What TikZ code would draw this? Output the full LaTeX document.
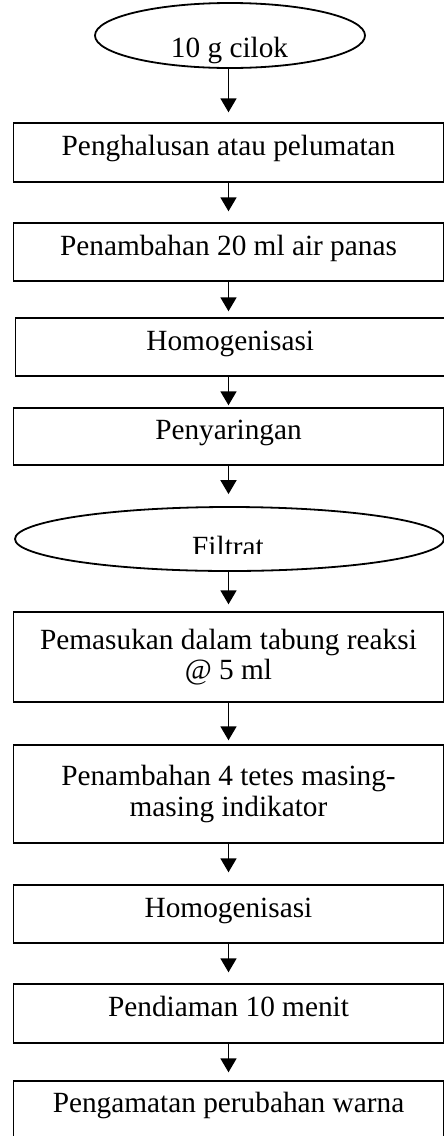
\documentclass[tikz,border=0pt]{standalone}
\usepackage{fontspec}
\setmainfont{Liberation Serif}
\usepackage{tikz}
\usetikzlibrary{shapes.geometric,arrows.meta}

\begin{document}
\begin{tikzpicture}[x=1pt,y=-1pt]
    \tikzstyle{proc}=[
      draw=black,
      line width=1.4pt,
      rectangle,
      inner sep=0pt,
      minimum width=430pt,
      align=center,
      font=\fontsize{29.3}{30.5}\selectfont,
    ]
    \tikzstyle{term}=[
      draw=black,
      line width=1.8pt,
      ellipse,
      inner sep=0pt,
    ]
    \tikzstyle{txt}=[anchor=base,inner sep=0pt,font=\fontsize{29.3}{30.5}\selectfont]
    \tikzstyle{flow}=[line width=1.8pt,-{Triangle[length=14pt,width=16pt]},draw=black]

    \clip (0,0) rectangle (444,1136);

    \node[term,minimum width=270pt,minimum height=65pt] (cilok) at (230,35.5) {};
    \node[txt] (ciloktxt) at (229.5,57) {10 g cilok};
    \node[proc,minimum height=59pt,text height=0.66em,text depth=0pt] (halus) at (228.5,152.5) {Penghalusan atau pelumatan};
    \node[proc,minimum height=58pt,text height=0.66em,text depth=0pt] (tambah) at (228.5,252) {Penambahan 20 ml air panas};
    \node[proc,minimum height=58pt,minimum width=429.5pt,text height=0.66em,text depth=0pt] (homoa) at (230.25,347) {Homogenisasi};
    \node[proc,minimum height=57pt,text height=0.66em,text depth=0pt] (saring) at (228.5,436.5) {Penyaringan};
    \node[term,minimum width=429pt,minimum height=64pt] (filtrat) at (229.5,539) {};
    \begin{scope}
      \clip (0,0) rectangle (444,553);
      \node[txt] (filtrattxt) at (228,556.4) {Filtrat};
    \end{scope}
    \node[proc,minimum height=90pt] (masuk) at (228.5,657) {Pemasukan dalam tabung reaksi\\@ 5 ml};
    \node[proc,minimum height=98pt] (indikator) at (228.5,794) {Penambahan 4 tetes masing-\\masing indikator};
    \node[proc,minimum height=58pt,text height=0.66em,text depth=0pt] (homob) at (228.5,914) {Homogenisasi};
    \node[proc,minimum height=59pt,text height=0.66em,text depth=0pt] (diam) at (228.5,1013.5) {Pendiaman 10 menit};
    \node[proc,minimum height=56pt,text height=0.66em,text depth=0pt] (amati) at (228.5,1109) {Pengamatan perubahan warna};

    \draw[flow,shorten >=10pt] (cilok.south -| halus.south) -- (halus.north);
    \draw[flow,shorten >=11pt] (halus.south) -- (tambah.north);
    \draw[flow,shorten >=6pt] (tambah.south) -- (tambah.south |- homoa.north);
    \draw[flow,shorten >=2pt] (tambah.south |- homoa.south) -- (saring.north);
    \draw[flow,shorten >=12pt] (saring.south) -- (saring.south |- filtrat.north);
    \draw[flow,shorten >=7pt] (saring.south |- filtrat.south) -- (masuk.north);
    \draw[flow,shorten >=4pt] (masuk.south) -- (indikator.north);
    \draw[flow,shorten >=12pt] (indikator.south) -- (homob.north);
    \draw[flow,shorten >=11pt] (homob.south) -- (diam.north);
    \draw[flow,shorten >=8pt] (diam.south) -- (amati.north);
  \end{tikzpicture}
\end{document}
